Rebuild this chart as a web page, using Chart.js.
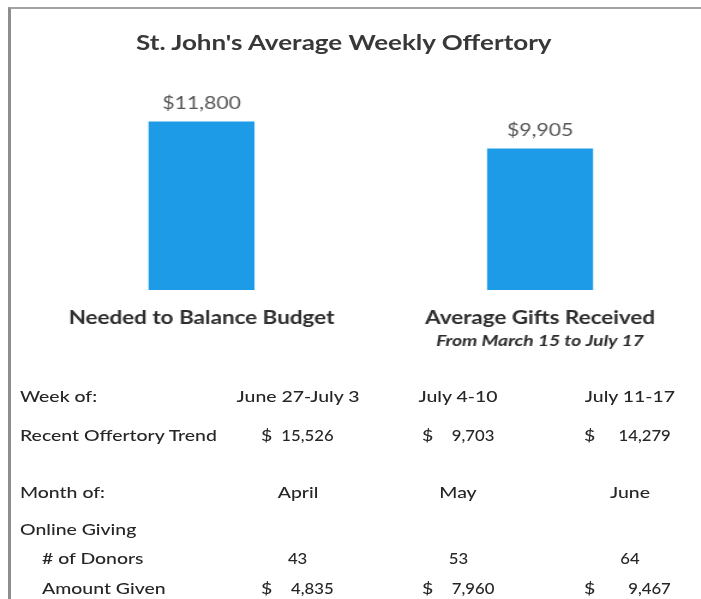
<!DOCTYPE html>
<html>
<head>
<meta charset="utf-8">
<script src="https://cdn.jsdelivr.net/npm/chart.js@4/dist/chart.umd.min.js"></script>
<style>
  html, body { margin: 0; padding: 0; background: #ffffff; overflow: hidden; width: 701px; height: 599px; }
  #wrap { position: relative; width: 701px; height: 599px; overflow: hidden; font-family: Lato, Carlito, Calibri, sans-serif; }
  #frame { position: absolute; left: 8px; top: 7px; width: 710px; height: 610px; border-left: 3px solid #8e8e8e; border-top: 2px solid #a3a3a3; box-sizing: border-box; }
  .stretch { position: absolute; left: 0; top: 0; transform: scaleX(1.2); transform-origin: 0 0; }
  #chart { position: absolute; left: 0; top: 0; transform: scaleX(1.2); transform-origin: 0 0; }
  #title { position: absolute; left: 0; width: 573px; top: 29px; text-align: center; font-weight: 700; font-size: 21.7px; color: #383838; white-space: nowrap; }
  .t { position: absolute; font-size: 16.2px; font-weight: 500; color: #262626; white-space: nowrap; line-height: 20px; transform: translateY(-50%); }
  .c { transform: translate(-50%, -50%); }
  .r { transform: translate(-100%, -50%); }
  .nr { transform-origin: 100% 50%; transform: translate(-100%, -50%) scaleX(0.86); }
  .nc { transform-origin: 50% 50%; transform: translate(-50%, -50%) scaleX(0.86); }
</style>
</head>
<body>
<div id="wrap">
  <div id="frame"></div>
  <canvas id="chart" width="600" height="360"></canvas>
  <div class="stretch" style="width:585px;height:599px;">
    <div id="title">St. John's Average Weekly Offertory</div>
    <div id="table"></div>
  </div>
</div>
<script>
// ---- data ----
const categories = ['Needed to Balance Budget', 'Average Gifts Received'];
const categoryNotes = ['', 'From March 15 to July 17'];
const offertory = [11800, 9905];

const weekHeader = 'Week of:';
const weekLabels = ['June 27-July 3', 'July 4-10', 'July 11-17'];
const trendLabel = 'Recent Offertory Trend';
const recentOffertory = [15526, 9703, 14279];

const monthHeader = 'Month of:';
const monthLabels = ['April', 'May', 'June'];
const onlineHeader = 'Online Giving';
const donorsLabel = '# of Donors';
const onlineDonors = [43, 53, 64];
const amountLabel = 'Amount Given';
const onlineAmounts = [4835, 7960, 9467];

// ---- chart ----
const SX = 1.2; // horizontal stretch of the scanned page
const FONT = 'Lato, Carlito, Calibri, sans-serif';
const fmt = v => v.toLocaleString('en-US');

const valueLabels = {
  id: 'valueLabels',
  afterDatasetsDraw(chart) {
    const ctx = chart.ctx;
    const meta = chart.getDatasetMeta(0);
    ctx.save();
    ctx.font = '17.7px ' + FONT;
    ctx.fillStyle = '#555555';
    ctx.textAlign = 'center';
    ctx.textBaseline = 'middle';
    meta.data.forEach((bar, i) => {
      ctx.fillText('$' + fmt(chart.data.datasets[0].data[i]), bar.x, bar.y - 18);
    });
    ctx.restore();
  }
};

const subLabels = {
  id: 'subLabels',
  afterDraw(chart) {
    const ctx = chart.ctx;
    const xs = chart.scales.x;
    ctx.save();
    ctx.font = 'italic 700 16px ' + FONT;
    ctx.fillStyle = '#2b2b2b';
    ctx.textAlign = 'center';
    ctx.textBaseline = 'middle';
    categoryNotes.forEach((t, i) => {
      if (t) ctx.fillText(t, xs.getPixelForValue(i), xs.top + 51);
    });
    ctx.restore();
  }
};

new Chart(document.getElementById('chart'), {
  type: 'bar',
  data: {
    labels: categories,
    datasets: [{
      data: offertory,
      backgroundColor: '#1e9be6',
      borderWidth: 0,
      barPercentage: 0.313,
      categoryPercentage: 1
    }]
  },
  options: {
    responsive: false,
    animation: false,
    events: [],
    layout: { padding: { left: 26.85, right: 8.9, top: 90, bottom: 0 } },
    plugins: { legend: { display: false }, tooltip: { enabled: false }, title: { display: false } },
    scales: {
      x: {
        grid: { display: false, drawTicks: false },
        border: { display: false },
        ticks: { color: '#2e2e2e', font: { family: FONT, size: 18.7, weight: '700' }, padding: 16.8, maxRotation: 0, autoSkip: false },
        afterFit(s) { s.height = 70; }
      },
      y: { display: false, min: 0, max: 14000 }
    }
  },
  plugins: [valueLabels, subLabels]
});

// ---- table ----
const tbl = document.getElementById('table');
function put(text, x, y, cls) {
  const d = document.createElement('div');
  d.className = 't' + (cls ? ' ' + cls : '');
  d.textContent = text;
  d.style.left = (x / SX) + 'px';
  d.style.top = y + 'px';
  tbl.appendChild(d);
  return d;
}
const colCenters = [298, 458, 630];
const moneyLeft = [261, 422, 584];
const moneyRight = [334, 494, 671];
const rowY = { week: 396, trend: 435, month: 492, online: 529, donors: 558, amount: 588 };

put(weekHeader, 20, rowY.week);
weekLabels.forEach((w, i) => put(w, colCenters[i], rowY.week, 'c'));
put(trendLabel, 20, rowY.trend);
recentOffertory.forEach((v, i) => { put('$', moneyLeft[i], rowY.trend); put(fmt(v), moneyRight[i], rowY.trend, 'nr'); });
put(monthHeader, 20, rowY.month);
monthLabels.forEach((m, i) => put(m, colCenters[i], rowY.month, 'c'));
put(onlineHeader, 20, rowY.online);
put(donorsLabel, 42, rowY.donors);
onlineDonors.forEach((v, i) => put(String(v), colCenters[i], rowY.donors, 'nc'));
put(amountLabel, 42, rowY.amount);
onlineAmounts.forEach((v, i) => { put('$', moneyLeft[i], rowY.amount); put(fmt(v), moneyRight[i], rowY.amount, 'nr'); });
</script>
</body>
</html>
